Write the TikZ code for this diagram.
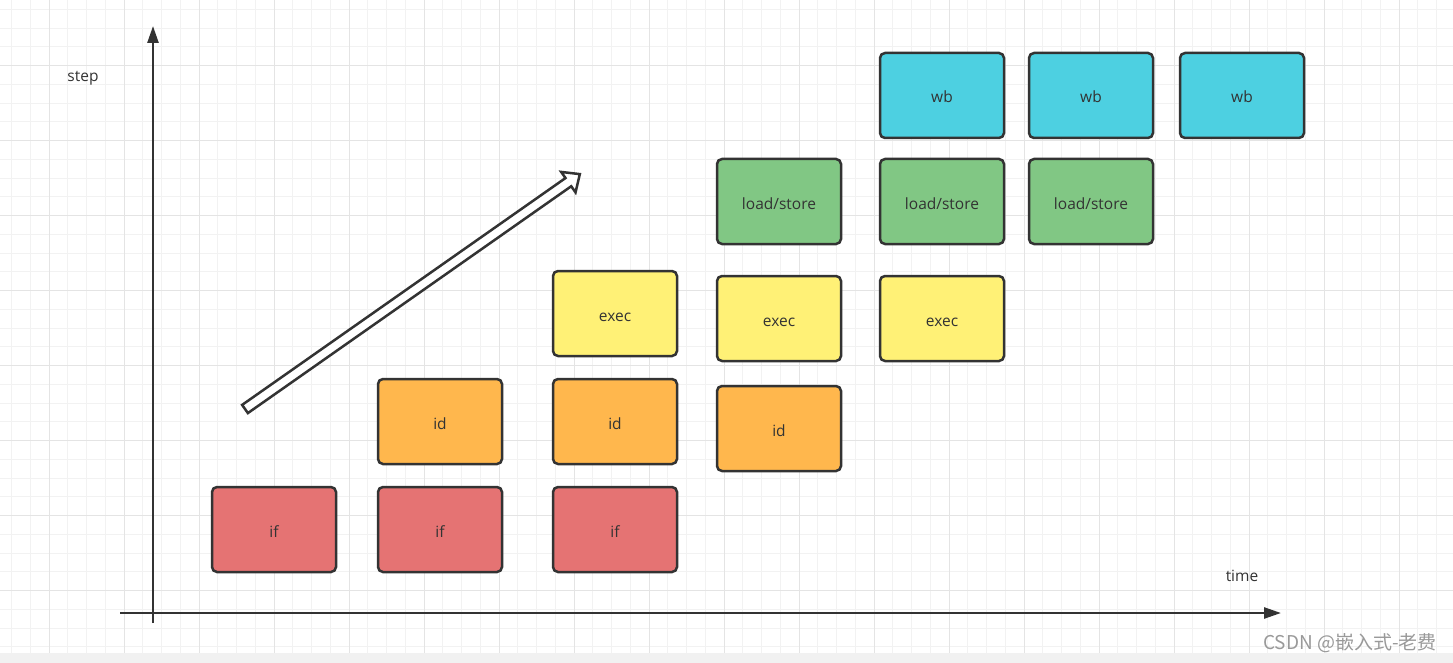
\documentclass[tikz,border=0pt]{standalone}
\usepackage{fontspec}
\setmainfont{Open Sans}
\newfontfamily\cjkfont{Noto Sans CJK SC}
\usetikzlibrary{arrows.meta}

\definecolor{ink}{HTML}{333333}
\definecolor{gridminor}{HTML}{F2F2F2}
\definecolor{gridmajor}{HTML}{E4E4E4}
\definecolor{stripgray}{HTML}{F1F1F1}
\definecolor{ifred}{HTML}{E57373}
\definecolor{idorange}{HTML}{FFB74D}
\definecolor{execyellow}{HTML}{FFF176}
\definecolor{memgreen}{HTML}{81C784}
\definecolor{wbcyan}{HTML}{4DD0E1}

\begin{document}
\begin{tikzpicture}[x=1pt,y=-1pt,font=\fontsize{15.5}{18}\selectfont,
  stage/.style={draw=ink,line width=2.5pt,rounded corners=5pt,minimum width=124pt,minimum height=85pt,text=ink,inner sep=0pt,text height=15pt,text depth=0pt},
  ifst/.style={stage,fill=ifred},
  idst/.style={stage,fill=idorange},
  execst/.style={stage,fill=execyellow},
  memst/.style={stage,fill=memgreen},
  wbst/.style={stage,fill=wbcyan},
  axis/.style={draw=ink,line width=2.5pt,-{Triangle[length=17pt,width=11pt]}},
  axislabel/.style={text=ink}]
\useasboundingbox (0,0) rectangle (1453,663);
\fill[white] (0,0) rectangle (1453,653);
\fill[stripgray] (0,653) rectangle (1453,663);
% grid
\foreach \gx in {11.5,30.25,...,1453} \draw[gridminor,line width=1pt] (\gx,0) -- (\gx,653);
\foreach \gy in {9.45,28.2,...,652} \draw[gridminor,line width=1pt] (0,\gy) -- (1453,\gy);
\foreach \gx in {49,124,...,1453} \draw[gridmajor,line width=1pt] (\gx,0) -- (\gx,653);
\foreach \gy in {65.7,140.7,...,652} \draw[gridmajor,line width=1pt] (0,\gy) -- (1453,\gy);

% axes
\coordinate (yfoot) at (153,623);
\coordinate (ytip) at (153,26);
\coordinate (xfoot) at (120,613);
\coordinate (xtip) at (1281,613);
\draw[axis] (yfoot) -- (ytip);
\draw[axis] (xfoot) -- (xtip);
\node[axislabel] (steplabel) at (83,78) {step};
\node[axislabel] (timelabel) at (1242,576) {time};

% trend arrow
\begin{scope}[shift={(245,409)},rotate=35.05]
\filldraw[fill=white,draw=ink,line width=2.5pt,line join=miter]
  (0,-5) -- (395,-5) -- (395,-12.5) -- (409,0) -- (395,12.5) -- (395,5) -- (0,5) -- cycle;
\end{scope}

% pipeline stages
\node[ifst] (if1) at (274,529.5) {if};
\node[ifst] (if2) at (440,529.5) {if};
\node[ifst] (if3) at (615,529.5) {if};
\node[idst] (id1) at (440,421.5) {id};
\node[idst] (id2) at (615,421.5) {id};
\node[idst] (id3) at (779,428.5) {id};
\node[execst] (exec1) at (615,313.5) {exec};
\node[execst] (exec2) at (779,318.5) {exec};
\node[execst] (exec3) at (942,318.5) {exec};
\node[memst] (mem1) at (779,201.5) {load/store};
\node[memst] (mem2) at (942,201.5) {load/store};
\node[memst] (mem3) at (1091,201.5) {load/store};
\node[wbst] (wb1) at (942,95.5) {wb};
\node[wbst] (wb2) at (1091,95.5) {wb};
\node[wbst] (wb3) at (1242,95.5) {wb};

\node[font=\cjkfont\fontsize{19}{21}\selectfont,text=black!40] (mark) at (1350,643) {CSDN @嵌入式-老费};
\end{tikzpicture}
\end{document}
